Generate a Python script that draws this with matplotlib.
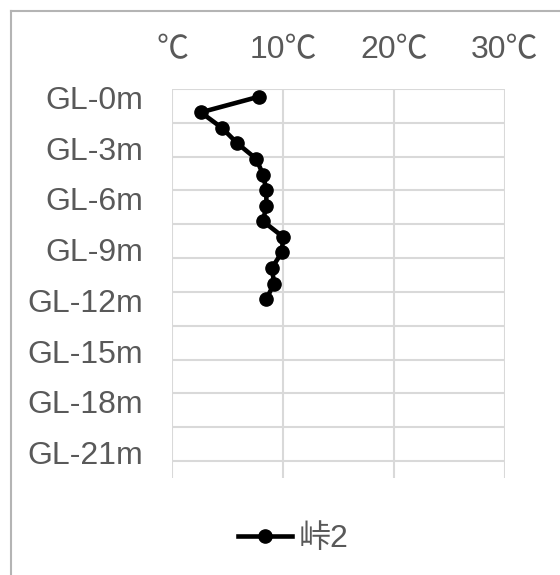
import matplotlib
matplotlib.use("Agg")
import matplotlib.pyplot as plt
from matplotlib.lines import Line2D

plt.rcParams['font.family'] = ['Liberation Sans', 'Noto Sans CJK JP', 'DejaVu Sans']

# data
depth_labels = ["GL-0m", "GL-3m", "GL-6m", "GL-9m", "GL-12m", "GL-15m", "GL-18m", "GL-21m"]
label_positions = [0, 3, 6, 9, 12, 15, 18, 21]
x_ticks = [0, 10, 20, 30]
x_tick_labels = ["℃", "10℃", "20℃", "30℃"]
series_name = "峠2"
depth_index = [0, 1, 2, 3, 4, 5, 6, 7, 8, 9, 10, 11, 12, 13]
temperature = [7.8, 2.6, 4.5, 5.9, 7.6, 8.2, 8.5, 8.5, 8.2, 10.0, 9.9, 9.0, 9.2, 8.5]

W, H = 560, 575
fig = plt.figure(figsize=(W / 100, H / 100), dpi=100)
text_color = "#595959"
grid_color = "#d9d9d9"
fs = 23

left, right, top, bottom = 172, 505, 89, 478
ax = fig.add_axes([left / W, 1 - bottom / H, (right - left) / W, (bottom - top) / H])
ax.set_xlim(0, 30)
ax.set_ylim(22.5, -0.5)
ax.set_xticks(x_ticks)
ax.set_xticklabels(x_tick_labels)
ax.set_yticks(label_positions)
ax.set_yticklabels(depth_labels)
ax.set_yticks([v - 0.5 for v in range(0, 23, 2)], minor=True)
ax.xaxis.tick_top()
ax.tick_params(axis='both', which='both', length=0, colors=text_color, labelsize=fs)
ax.tick_params(axis='x', pad=17)
ax.tick_params(axis='y', pad=21)
ax.grid(True, axis='x', which='major', color=grid_color, lw=1.5)
ax.grid(True, axis='y', which='minor', color=grid_color, lw=1.5)
ax.grid(False, axis='y', which='major')
for s in ax.spines.values():
    s.set_visible(False)
ax.set_axisbelow(True)

ax2 = ax.twinx()
ax2.set_ylim(24.5, -0.5)
ax2.set_xlim(0, 30)
ax2.plot(temperature, depth_index, color="black", lw=3.3, marker="o", markersize=9.5,
         solid_joinstyle="round", label=series_name)
ax2.set_yticks([])
for s in ax2.spines.values():
    s.set_visible(False)

handle = Line2D([], [], color="black", lw=3.3, marker="o", markersize=9.5)
fig.legend([handle], [series_name], loc="center", bbox_to_anchor=(293 / W, 1 - 539 / H),
           frameon=False, fontsize=fs, labelcolor=text_color, handlelength=1.7,
           handletextpad=0.2, borderpad=0)

# outer chart border (only left and top visible)
border = "#b4b4b4"
fig.add_artist(Line2D([11 / W, 11 / W], [1 - 11 / H, 0], transform=fig.transFigure, color=border, lw=1.5))
fig.add_artist(Line2D([11 / W, 1], [1 - 11 / H, 1 - 11 / H], transform=fig.transFigure, color=border, lw=1.5))

fig.savefig("out.png", dpi=100, facecolor="white")
